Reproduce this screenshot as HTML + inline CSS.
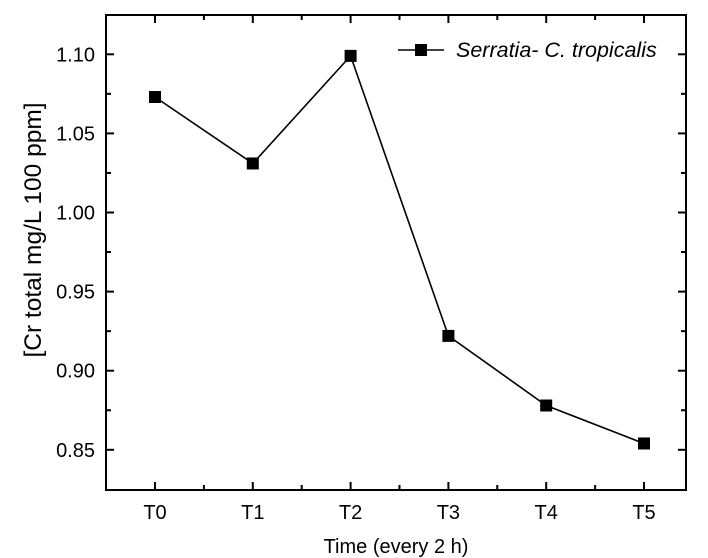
<!DOCTYPE html>
<html><head><meta charset="utf-8"><style>
html,body{margin:0;padding:0;background:#fff;}
svg{display:block;font-family:"Liberation Sans",Arial,sans-serif;}
</style></head><body>
<svg id="chart" width="708" height="558"></svg>
<script>
const categories = ["T0","T1","T2","T3","T4","T5"];
const seriesValues = [1.073, 1.031, 1.099, 0.922, 0.878, 0.854];
const yTicks = [0.85, 0.90, 0.95, 1.00, 1.05, 1.10];
const yTickLabels = ["0.85","0.90","0.95","1.00","1.05","1.10"];
const seriesName = "Serratia- C. tropicalis";

const NS = "http://www.w3.org/2000/svg";
const svg = document.getElementById("chart");
const L = 106, R = 686, T = 15, B = 490;
const x0 = 155, xStep = 97.8;
function xs(i){ return x0 + i * xStep; }
function ys(v){ return 54.3 + (1.10 - v) / 0.05 * 79.1; }
function mk(tag, attrs){ const e = document.createElementNS(NS, tag); for (const k in attrs) e.setAttribute(k, attrs[k]); svg.appendChild(e); return e; }

const frame = mk("rect", {x:L, y:T, width:R-L, height:B-T, fill:"none", stroke:"#000", "stroke-width":2});



for (let i = 0; i < categories.length; i++) {
  const x = xs(i);
  const t1 = mk("line", {x1:x, x2:x, y1:B, y2:B-8, stroke:"#000", "stroke-width":2});
  
  
  const t2 = mk("line", {x1:x, x2:x, y1:T, y2:T+8, stroke:"#000", "stroke-width":2});
  
  
  if (i < categories.length - 1) {
    const xm = x + xStep / 2;
    const m1 = mk("line", {x1:xm, x2:xm, y1:B, y2:B-5, stroke:"#000", "stroke-width":2});
    
    
    const m2 = mk("line", {x1:xm, x2:xm, y1:T, y2:T+5, stroke:"#000", "stroke-width":2});
    
    
  }
  const lb = mk("text", {x:x, y:B+29, "font-size":20, "text-anchor":"middle", fill:"#000"});
  lb.textContent = categories[i];
  
  
}
for (let i = 0; i < yTicks.length; i++) {
  const y = ys(yTicks[i]);
  const t1 = mk("line", {x1:L, x2:L+8, y1:y, y2:y, stroke:"#000", "stroke-width":2});
  
  
  const t2 = mk("line", {x1:R, x2:R-8, y1:y, y2:y, stroke:"#000", "stroke-width":2});
  
  
  const ym = ys(yTicks[i] + 0.025);
  if (ym > T) {
    const m1 = mk("line", {x1:L, x2:L+5, y1:ym, y2:ym, stroke:"#000", "stroke-width":2});
    
    
    const m2 = mk("line", {x1:R, x2:R-5, y1:ym, y2:ym, stroke:"#000", "stroke-width":2});
    
    
  }
  const lb = mk("text", {x:L-11, y:y+7, "font-size":20, "text-anchor":"end", fill:"#000"});
  lb.textContent = yTickLabels[i];
  
  
}
const pts = seriesValues.map((v, i) => xs(i) + "," + ys(v)).join(" ");
const pl = mk("polyline", {points:pts, fill:"none", stroke:"#000", "stroke-width":1.6});


for (let i = 0; i < seriesValues.length; i++) {
  const r = mk("rect", {x:xs(i)-6, y:ys(seriesValues[i])-6, width:12, height:12, fill:"#000"});
  
  
}
const ll = mk("line", {x1:398, x2:444, y1:50, y2:50, stroke:"#000", "stroke-width":1.6});


const lm = mk("rect", {x:415, y:44, width:12, height:12, fill:"#000"});


const lt = mk("text", {x:456, y:57, "font-size":21.5, "font-style":"italic", fill:"#000"});
lt.textContent = seriesName;


const xt = mk("text", {x:396, y:553, "font-size":20, "text-anchor":"middle", fill:"#000"});
xt.textContent = "Time (every 2 h)";


const yt = mk("text", {x:0, y:0, "font-size":24.5, "text-anchor":"middle", fill:"#000", transform:"translate(41,230) rotate(-90)"});
yt.textContent = "[Cr total mg/L 100 ppm]";


</script>
</body></html>
